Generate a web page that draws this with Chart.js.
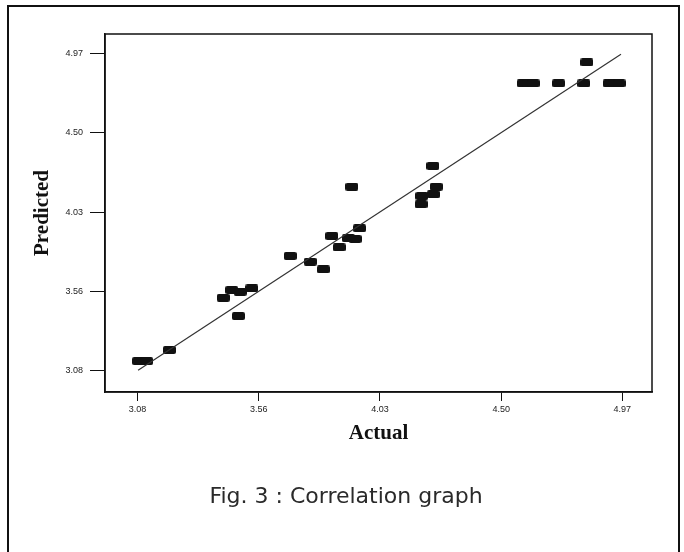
<!DOCTYPE html>
<html><head><meta charset="utf-8">
<script src="https://cdn.jsdelivr.net/npm/chart.js@4"></script>
<style>
html,body{margin:0;padding:0;background:#fff;}
#wrap{position:relative;width:684px;height:552px;overflow:hidden;background:#fff;}
#c{position:absolute;left:0;top:0;}
#frame{position:absolute;left:7px;top:5px;width:673px;height:600px;border:2px solid #111;box-sizing:border-box;}
#cap{position:absolute;left:0;top:483px;width:692px;text-align:center;font:22px "DejaVu Sans",sans-serif;color:#2a2a2a;line-height:26px;}
</style></head>
<body>
<div id="wrap">
<div id="frame"></div>
<canvas id="c" width="684" height="552"></canvas>
<div id="cap">Fig. 3 : Correlation graph</div>
</div>
<script>
const actual = [3.087, 3.118, 3.207, 3.417, 3.450, 3.483, 3.528, 3.476, 3.678, 3.756, 3.807, 3.840, 3.869, 3.905, 3.931, 3.948, 3.918, 4.188, 4.191, 4.236, 4.247, 4.234, 4.586, 4.605, 4.625, 4.724, 4.822, 4.834, 4.921, 4.940, 4.960];
const predicted = [3.140, 3.140, 3.206, 3.517, 3.563, 3.553, 3.573, 3.408, 3.766, 3.732, 3.686, 3.885, 3.817, 3.871, 3.867, 3.931, 4.178, 4.074, 4.123, 4.133, 4.178, 4.302, 4.794, 4.794, 4.794, 4.794, 4.794, 4.919, 4.794, 4.794, 4.794];
const fitX = [3.085, 4.967];
const fitY = [3.085, 4.967];
const tickValues = [3.0825, 3.555, 4.0275, 4.5, 4.9725];
const xTickLabels = ['3.08', '3.56', '4.03', '4.50', '4.97'];
const yTickLabels = ['3.08', '3.56', '4.03', '4.50', '4.97'];
const axisMin = 2.956, axisMax = 5.088;

function makeMarker(){
  const c = document.createElement('canvas');
  c.width = 13; c.height = 8;
  const g = c.getContext('2d');
  g.fillStyle = '#111';
  g.beginPath();
  if (g.roundRect) { g.roundRect(0, 0, 13, 8, 2); } else { g.rect(0, 0, 13, 8); }
  g.fill();
  return c;
}
const marker = makeMarker();

const boxPlugin = {
  id: 'box',
  afterDraw(chart){
    const a = chart.chartArea, ctx = chart.ctx;
    ctx.save();
    ctx.strokeStyle = '#111';
    ctx.lineWidth = 1.5;
    ctx.strokeRect(a.left, a.top, a.right - a.left, a.bottom - a.top);
    ctx.restore();
  }
};

const tickFont = {family: 'Liberation Sans', size: 9};
const titleFont = {family: 'Liberation Serif', size: 21, weight: 'bold'};
new Chart(document.getElementById('c'), {
  type: 'scatter',
  data: {
    datasets: [
      {
        label: 'Design points',
        data: actual.map((x, i) => ({x: x, y: predicted[i]})),
        pointStyle: marker,
        pointRadius: 5,
        pointHoverRadius: 5,
        order: 2
      },
      {
        type: 'line',
        label: 'Fit',
        data: fitX.map((x, i) => ({x: x, y: fitY[i]})),
        showLine: true,
        borderColor: '#333',
        borderWidth: 1.2,
        pointRadius: 0,
        fill: false,
        order: 1
      }
    ]
  },
  options: {
    responsive: false,
    animation: false,
    devicePixelRatio: 1,
    layout: {padding: {left: 0, top: 34, right: 32, bottom: 0}},
    plugins: {legend: {display: false}, tooltip: {enabled: false}},
    events: [],
    scales: {
      x: {
        type: 'linear', min: axisMin, max: axisMax,
        afterBuildTicks: s => { s.ticks = tickValues.map(v => ({value: v})); },
        afterFit: s => { s.height = 160; },
        ticks: {autoSkip: false, maxRotation: 0, padding: 3, color: '#222', font: tickFont,
          callback: (v, i) => xTickLabels[i]},
        grid: {display: true, drawOnChartArea: false, drawTicks: true, tickLength: 9, color: '#111', lineWidth: 1},
        border: {display: true, color: '#111', width: 1.5},
        title: {display: true, text: 'Actual', color: '#111',
          font: titleFont, padding: {top: 0, bottom: 106}}
      },
      y: {
        type: 'linear', min: axisMin, max: axisMax,
        afterBuildTicks: s => { s.ticks = tickValues.map(v => ({value: v})); },
        afterFit: s => { s.width = 105; },
        ticks: {autoSkip: false, padding: 7, color: '#222', font: tickFont,
          callback: (v, i) => yTickLabels[i]},
        grid: {display: true, drawOnChartArea: false, drawTicks: true, tickLength: 15, color: '#111', lineWidth: 1},
        border: {display: true, color: '#111', width: 1.5},
        title: {display: true, text: 'Predicted', color: '#111',
          font: titleFont, padding: {top: 30, bottom: 0}}
      }
    }
  },
  plugins: [boxPlugin]
});
</script>
</body></html>
